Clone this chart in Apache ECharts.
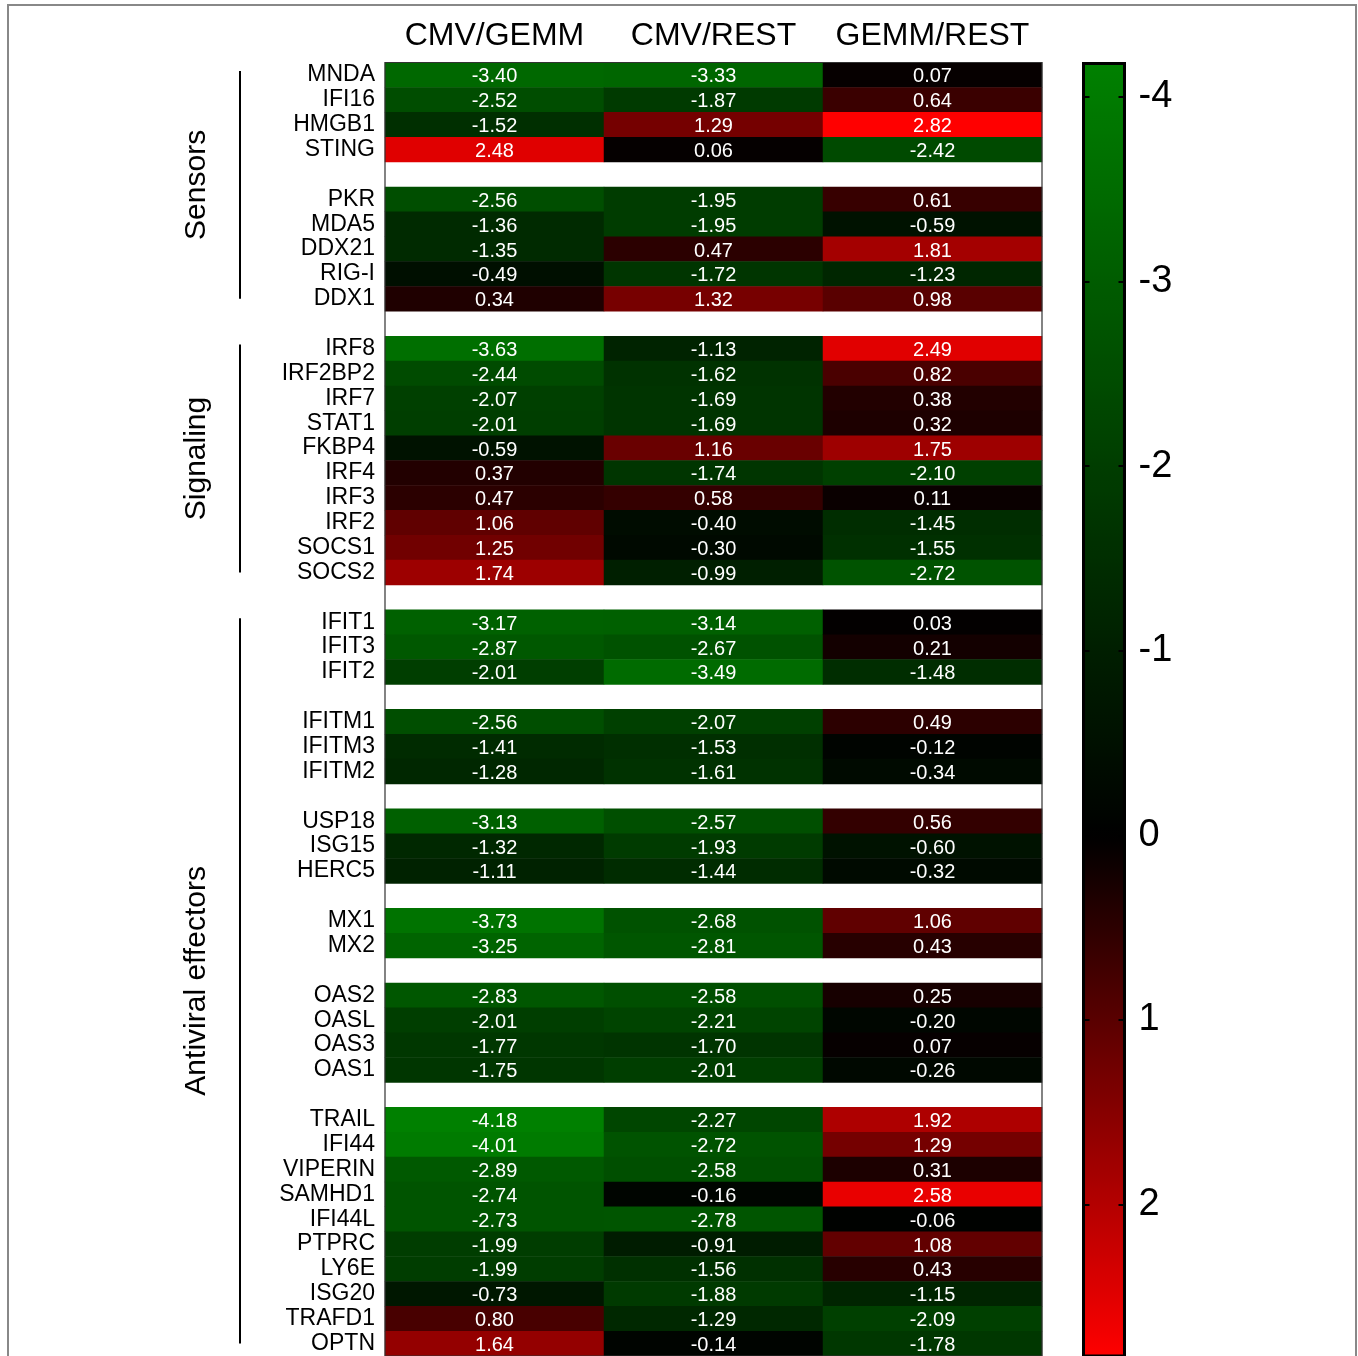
<!DOCTYPE html>
<html>
<head>
  <meta charset="utf-8">
  <title>Heatmap</title>
  <script src="https://cdn.jsdelivr.net/npm/echarts@6/dist/echarts.min.js"></script>
  <style>
    html, body { margin: 0; padding: 0; background: #fff; }
    #main { width: 1358px; height: 1356px; }
  </style>
</head>
<body>
<div id="main"></div>
<script>
// column headers
var columns = ['CMV/GEMM', 'CMV/REST', 'GEMM/REST'];

// gene rows, '' = blank spacer row
var genes = ['MNDA', 'IFI16', 'HMGB1', 'STING', '', 'PKR', 'MDA5', 'DDX21', 'RIG-I', 'DDX1', '',
  'IRF8', 'IRF2BP2', 'IRF7', 'STAT1', 'FKBP4', 'IRF4', 'IRF3', 'IRF2', 'SOCS1', 'SOCS2', '',
  'IFIT1', 'IFIT3', 'IFIT2', '', 'IFITM1', 'IFITM3', 'IFITM2', '', 'USP18', 'ISG15', 'HERC5', '',
  'MX1', 'MX2', '', 'OAS2', 'OASL', 'OAS3', 'OAS1', '',
  'TRAIL', 'IFI44', 'VIPERIN', 'SAMHD1', 'IFI44L', 'PTPRC', 'LY6E', 'ISG20', 'TRAFD1', 'OPTN'];

var cmvGemm = [-3.40, -2.52, -1.52, 2.48, null, -2.56, -1.36, -1.35, -0.49, 0.34, null,
  -3.63, -2.44, -2.07, -2.01, -0.59, 0.37, 0.47, 1.06, 1.25, 1.74, null,
  -3.17, -2.87, -2.01, null, -2.56, -1.41, -1.28, null, -3.13, -1.32, -1.11, null,
  -3.73, -3.25, null, -2.83, -2.01, -1.77, -1.75, null,
  -4.18, -4.01, -2.89, -2.74, -2.73, -1.99, -1.99, -0.73, 0.80, 1.64];

var cmvRest = [-3.33, -1.87, 1.29, 0.06, null, -1.95, -1.95, 0.47, -1.72, 1.32, null,
  -1.13, -1.62, -1.69, -1.69, 1.16, -1.74, 0.58, -0.40, -0.30, -0.99, null,
  -3.14, -2.67, -3.49, null, -2.07, -1.53, -1.61, null, -2.57, -1.93, -1.44, null,
  -2.68, -2.81, null, -2.58, -2.21, -1.70, -2.01, null,
  -2.27, -2.72, -2.58, -0.16, -2.78, -0.91, -1.56, -1.88, -1.29, -0.14];

var gemmRest = [0.07, 0.64, 2.82, -2.42, null, 0.61, -0.59, 1.81, -1.23, 0.98, null,
  2.49, 0.82, 0.38, 0.32, 1.75, -2.10, 0.11, -1.45, -1.55, -2.72, null,
  0.03, 0.21, -1.48, null, 0.49, -0.12, -0.34, null, 0.56, -0.60, -0.32, null,
  1.06, 0.43, null, 0.25, -0.20, 0.07, -0.26, null,
  1.92, 1.29, 0.31, 2.58, -0.06, 1.08, 0.43, -1.15, -2.09, -1.78];

// group brackets on the left
var groupNames = ['Sensors', 'Signaling', 'Antiviral effectors'];
var groupFirst = ['MNDA', 'IRF8', 'IFIT1'];
var groupLast = ['DDX1', 'SOCS2', 'OPTN'];

// colour scale limits
var scaleMin = -4.18, scaleMax = 2.82;

var FONT = '"Liberation Sans", Arial, Helvetica, sans-serif';

// build heatmap data [col, row, value]
var colValues = [cmvGemm, cmvRest, gemmRest];
var cells = [];
colValues.forEach(function (arr, c) {
  arr.forEach(function (v, r) {
    if (v !== null) cells.push([c, r, v]);
  });
});

// green -> black -> red, black exactly at 0 (stops every 0.02)
var steps = Math.round((scaleMax - scaleMin) / 0.02);
var stops = [];
for (var k = 0; k <= steps; k++) {
  var v = scaleMin + (scaleMax - scaleMin) * k / steps;
  if (v < 0) stops.push('rgb(0,' + Math.round(128 * v / scaleMin) + ',0)');
  else stops.push('rgb(' + Math.round(255 * v / scaleMax) + ',0,0)');
}

var myChart = echarts.init(document.getElementById('main'));

var option = {
  animation: false,
  textStyle: { fontFamily: FONT },
  grid: [
    { left: 385, top: 62.5, width: 657, height: 1295, show: true, z: 5,
      borderColor: '#333', borderWidth: 1.2, backgroundColor: 'transparent' },
    { left: 1083.5, top: 63.5, width: 41, height: 1295, show: true, z: 10,
      borderColor: '#000', borderWidth: 3, backgroundColor: 'transparent' }
  ],
  xAxis: [
    { type: 'category', gridIndex: 0, data: columns, position: 'top',
      axisLine: { show: false }, axisTick: { show: false }, splitLine: { show: false },
      axisLabel: { interval: 0, fontSize: 32, color: '#000', margin: 10, fontFamily: FONT } },
    { type: 'value', gridIndex: 1, show: false, min: 0, max: 1 }
  ],
  yAxis: [
    { type: 'category', gridIndex: 0, data: genes, inverse: true,
      axisLine: { show: false }, axisTick: { show: false }, splitLine: { show: false },
      axisLabel: { interval: 0, fontSize: 23, color: '#000', margin: 10, fontFamily: FONT } },
    { type: 'value', gridIndex: 1, position: 'left', inverse: true, min: scaleMin, max: scaleMax, z: 12,
      axisLine: { show: false }, splitLine: { show: false }, axisLabel: { show: false },
      axisTick: { show: true, inside: true, length: 6, lineStyle: { color: '#000', width: 2 } } },
    { type: 'value', gridIndex: 1, position: 'right', inverse: true, min: scaleMin, max: scaleMax, z: 12,
      axisLine: { show: false }, splitLine: { show: false },
      axisTick: { show: true, inside: true, length: 6, lineStyle: { color: '#000', width: 2 } },
      axisLabel: { fontSize: 38, color: '#000', margin: 14, fontFamily: FONT,
        showMinLabel: false, showMaxLabel: false } }
  ],
  visualMap: {
    type: 'continuous',
    seriesIndex: 0,
    min: scaleMin,
    max: scaleMax,
    inverse: true,
    calculable: false,
    hoverLink: false,
    orient: 'vertical',
    left: 1083.5,
    top: 63.5,
    padding: 0,
    itemWidth: 41,
    itemHeight: 1295,
    text: null,
    showLabel: false,
    inRange: { color: stops }
  },
  series: [{
    type: 'heatmap',
    xAxisIndex: 0,
    yAxisIndex: 0,
    data: cells,
    label: {
      show: true,
      color: '#fff',
      fontSize: 20,
      fontFamily: FONT,
      offset: [0, 2],
      formatter: function (p) { return p.value[2].toFixed(2); }
    },
    emphasis: { disabled: true }
  }]
};

myChart.setOption(option);

// group labels and bracket lines, positioned from the category axis
var graphics = [{
  type: 'rect', silent: true,
  shape: { x: 8, y: 5, width: 1348, height: 1400 },
  style: { fill: 'none', stroke: '#888', lineWidth: 2 }
}];
groupNames.forEach(function (name, g) {
  var y1 = myChart.convertToPixel({ yAxisIndex: 0 }, genes.indexOf(groupFirst[g])) - 4;
  var y2 = myChart.convertToPixel({ yAxisIndex: 0 }, genes.indexOf(groupLast[g]));
  graphics.push({
    type: 'line', silent: true,
    shape: { x1: 240, y1: y1, x2: 240, y2: y2 },
    style: { stroke: '#000', lineWidth: 2 }
  });
  graphics.push({
    type: 'text', silent: true,
    x: 197, y: (y1 + y2) / 2, rotation: Math.PI / 2,
    style: { text: name, fontSize: 30, fontFamily: FONT, fill: '#000',
      align: 'center', verticalAlign: 'middle' }
  });
});
myChart.setOption({ graphic: graphics });
</script>
</body>
</html>
